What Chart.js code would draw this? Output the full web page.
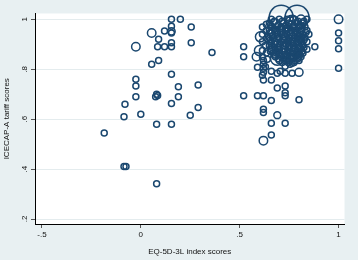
<!DOCTYPE html>
<html><head><meta charset="utf-8">
<script src="https://cdn.jsdelivr.net/npm/chart.js@4"></script>
<style>html,body{margin:0;padding:0;background:#e8f0f2;}canvas{display:block}</style>
</head><body>
<canvas id="c" width="358" height="260"></canvas>
<script>
// EQ-5D-3L index scores (x)
const xs = [
 .155,.20,.055,.12,.155,.155,.155,.09,.255,.255,.155,.155,.085,.12,-.025,.36,.09,.055,.155,-.025,-.025,-.025,.19,.29,.08,.085,.075,.19,.155,.29,0,.25,-.08,-.085,-.185,.08,.155,-.085,-.075,.08,
 .52,.52,.585,.88,1.0,1.0,1.0,1.0,1.0,.80,.52,.59,.62,.66,.80,.62,.62,.69,.66,.73,.62,.66,.73,.73,.73,.69,.62,.66,.69,.66,.73,.765,.62,.62,.62,.62,.59,.765,.80,.80,.73,.705,.755,.615,
 .615,.615,.615,.615,.615,.605,.60,.71,.79,.765,.69,
 .66,.70,.74,.77,.81,.84,
 .65,.68,.72,.75,.79,.82,
 .66,.69,.71,.74,.77,.80,.83,
 .65,.68,.70,.73,.76,.78,.81,.84,
 .66,.69,.72,.74,.77,.79,.82,.85,
 .65,.67,.70,.73,.75,.78,.80,.83,
 .66,.68,.71,.74,.76,.79,.81,.84,
 .65,.69,.72,.75,.77,.80,.82,
 .66,.68,.70,.73,.76,.78,.81,.84,
 .67,.70,.72,.75,.77,.79,.82,
 .68,.71,.74,.76,.79,.81,
 .70,.73,.75,.78,
 .675,.715,.755,.795,.825,
 .655,.695,.735,.765,.805,
 .675,.715,.745,.775,.815,
 .655,.685,.715,.755,.785,.805,.835,
 .665,.695,.725,.765,.795,.815,
 .655,.685,.725,.745,.775,.805,.825,
 .675,.705,.735,.765,.785,.815,
 .665,.695,.725,.745,.775,.805,.825,
 .655,.685,.715,.745,.765,.795,.815,
 .675,.705,.735,.765,.785,.805,
 .695,.725,.745,.765,.795,
 .715,.745,.775,
 .635,.635,.64,.63,.635,.64,.63
];
// ICECAP-A tariff scores (y)
const ys = [
 1.0,1.0,.945,.953,.972,.952,.945,.92,.969,.906,.906,.89,.89,.89,.89,.867,.835,.82,.78,.76,.733,.69,.73,.737,.70,.695,.69,.69,.663,.647,.62,.616,.66,.61,.545,.58,.58,.41,.41,.341,
 .89,.85,.85,.89,1.0,.945,.914,.882,.804,.788,.694,.694,.694,.675,.678,.64,.627,.616,.584,.584,.514,.537,.733,.706,.694,.725,.757,.757,.784,.792,.784,.784,.788,.804,.82,.835,.808,.824,.835,.863,.812,.792,.82,.776,
 .969,.94,.91,.875,.85,.93,.875,1.008,1.008,.99,.843,
 1.0,1.0,1.0,1.0,1.0,1.0,
 .985,.985,.985,.985,.985,.985,
 .97,.97,.97,.97,.97,.97,.97,
 .955,.955,.955,.955,.955,.955,.955,.955,
 .94,.94,.94,.94,.94,.94,.94,.94,
 .925,.925,.925,.925,.925,.925,.925,.925,
 .91,.91,.91,.91,.91,.91,.91,.91,
 .895,.895,.895,.895,.895,.895,.895,
 .88,.88,.88,.88,.88,.88,.88,.88,
 .865,.865,.865,.865,.865,.865,.865,
 .85,.85,.85,.85,.85,.85,
 .835,.835,.835,.835,
 .992,.992,.992,.992,.992,
 .977,.977,.977,.977,.977,
 .962,.962,.962,.962,.962,
 .947,.947,.947,.947,.947,.947,.947,
 .932,.932,.932,.932,.932,.932,
 .917,.917,.917,.917,.917,.917,.917,
 .902,.902,.902,.902,.902,.902,
 .887,.887,.887,.887,.887,.887,.887,
 .872,.872,.872,.872,.872,.872,.872,
 .857,.857,.857,.857,.857,.857,
 .842,.842,.842,.842,.842,
 .827,.827,.827,
 .98,.955,.925,.895,.865,.84,.81
];
// frequency weights
const ws = [
 1,1,2,1,1,1.5,1,1,1,1,1,1,1,1,2,1,1,1,1,1,1,1,1,1,1,1,1,1,1,1,1,1,1,1,1,1,1,1,1,1,
 1,1,2,1,2,1,1,1,1,1.8,1,1,1,1,1,1,1,1.3,1,1,2,1,1,1,1,1,1,1,1,1,1,1,1,1,1,1,1,1,1,1,1,1,1,1,
 1,1,1,1,1,2.8,2.8,16,16,5,5,
 1,1,1,1,2,1,
 1,2,1,1,1,1,
 1,1,1,2,1,1,1,
 1,1,2,1,1,1,1,1,
 2,1,1,1,2,1,1,1,
 1,1,1,2,1,1,2,1,
 1,1,1,1,2,1,1,1,
 1,2,1,1,1,1,1,
 1,1,1,1,2,1,1,1,
 1,1,2,1,1,1,1,
 1,1,1,1,2,1,
 1,1,1,1,
 1,1,2,1,1,
 1,1,1,2,1,
 1,1,1,1,1,
 1,1,1,1,2,1,1,
 1,1,1,1,1,1,
 1,2,1,1,1,1,1,
 1,1,1,1,1,1,
 1,1,2,1,1,1,1,
 1,1,1,1,1,1,1,
 1,1,1,2,1,1,
 1,1,1,1,1,
 1,1,1,
 1,1,1.5,1,1,1,1
];
const xTicks = [-0.5, 0, 0.5, 1];
const yTicks = [0.2, 0.4, 0.6, 0.8, 1];
const xTitle = 'EQ-5D-3L index scores';
const yTitle = 'ICECAP-A tariff scores';

const points = xs.map((x, i) => ({x: x, y: ys[i], w: ws[i]}));
const fmt = v => v === 0 ? '0' : String(v).replace('0.', '.');
const navy = '#1a476f';
const font = {family: 'Liberation Sans, Arial, sans-serif', size: 8};

const bg = {
  id: 'bg',
  beforeDraw(chart) {
    const {ctx, chartArea: a} = chart;
    ctx.save();
    ctx.fillStyle = '#e8f0f2';
    ctx.fillRect(0, 0, chart.width, chart.height);
    ctx.fillStyle = '#ffffff';
    ctx.fillRect(a.left, a.top, a.right - a.left, a.bottom - a.top);
    ctx.restore();
  }
};

new Chart(document.getElementById('c'), {
  type: 'scatter',
  data: {datasets: [{
    data: points,
    borderColor: navy,
    backgroundColor: 'rgba(0,0,0,0)',
    borderWidth: 1.5,
    pointRadius: c => 3 * Math.sqrt(c.raw ? c.raw.w : 1),
    pointHoverRadius: c => 3 * Math.sqrt(c.raw ? c.raw.w : 1),
    clip: false
  }]},
  options: {
    responsive: false,
    devicePixelRatio: 1,
    animation: false,
    events: [],
    layout: {padding: {top: 9, right: 10, left: 0, bottom: 0}},
    plugins: {legend: {display: false}, tooltip: {enabled: false}},
    scales: {
      x: {
        type: 'linear', min: -0.535, max: 1.03,
        afterBuildTicks: s => { s.ticks = xTicks.map(v => ({value: v})); },
        afterFit: s => { s.height = 36; },
        ticks: {font: font, color: '#111', padding: 2, maxRotation: 0, autoSkip: false, callback: v => fmt(v)},
        grid: {drawOnChartArea: false, drawTicks: true, tickLength: 4, tickColor: '#555'},
        border: {display: true, color: '#000', width: 1},
        title: {display: true, text: xTitle, font: font, color: '#111', padding: {top: 0, bottom: 3}}
      },
      y: {
        type: 'linear', min: 0.18, max: 1.0235,
        afterBuildTicks: s => { s.ticks = yTicks.map(v => ({value: v})); },
        afterFit: s => { s.width = 35; },
        ticks: {font: font, color: '#111', padding: 3, minRotation: 90, maxRotation: 90, crossAlign: 'center', autoSkip: false, callback: v => fmt(v)},
        grid: {color: '#e4ecee', lineWidth: 1, drawTicks: true, tickLength: 4, tickColor: '#555'},
        border: {display: true, color: '#000', width: 1},
        title: {display: true, text: yTitle, font: font, color: '#111', padding: {top: 2, bottom: 0}}
      }
    }
  },
  plugins: [bg]
});
</script>
</body></html>
